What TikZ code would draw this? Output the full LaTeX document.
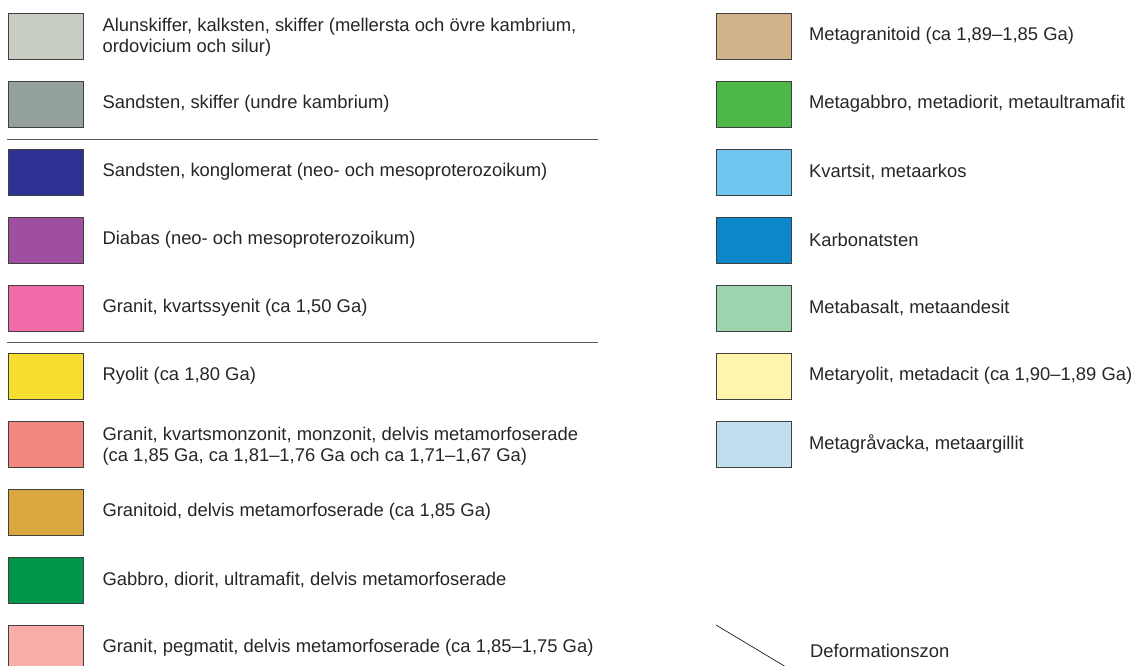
\documentclass[tikz,border=0pt]{standalone}
\usepackage{fontspec}
\setmainfont{Liberation Sans}
\usetikzlibrary{positioning}

\definecolor{alun}{HTML}{C8CEC3}
\definecolor{sandsk}{HTML}{94A09A}
\definecolor{konglo}{HTML}{2E3192}
\definecolor{diabas}{HTML}{9E4FA0}
\definecolor{kvsyen}{HTML}{F06AA7}
\definecolor{ryolit}{HTML}{F5DE2F}
\definecolor{kvmonz}{HTML}{F38880}
\definecolor{granitoid}{HTML}{D9A73E}
\definecolor{gabbro}{HTML}{00974B}
\definecolor{pegmat}{HTML}{F8ADA7}
\definecolor{mgranit}{HTML}{D3B38C}
\definecolor{mgabbro}{HTML}{4DB848}
\definecolor{kvartsit}{HTML}{6DC7EF}
\definecolor{karbonat}{HTML}{0B88CB}
\definecolor{mbasalt}{HTML}{9DD3AD}
\definecolor{mryolit}{HTML}{FFF5AD}
\definecolor{mgrav}{HTML}{C2DEEE}

\begin{document}
\begin{tikzpicture}[x=1pt, y=-1pt,
	every node/.style={font=\fontsize{18.4}{21}\selectfont, text=black!85},
	swatch/.style={draw=black!75, line width=0.7pt, minimum width=75pt, minimum height=46pt, inner sep=0pt},
	lbl/.style={right=19pt of #1, inner sep=0pt, align=left},
	rlbl/.style={right=17pt of #1, inner sep=0pt, align=left},
	rule/.style={draw=black!65, line width=0.8pt}]
	\useasboundingbox (0,0) rectangle (1140,666);
	\clip (0,0) rectangle (1140,666);

	% left column
	\node[swatch, fill=alun] (l1) at (45.5,36) {};
	\node[lbl=l1, yshift=-1pt] (t1) {Alunskiffer, kalksten, skiffer (mellersta och övre kambrium,\\ordovicium och silur)};
	\node[swatch, fill=sandsk] (l2) at (45.5,104) {};
	\node[lbl=l2] (t2) {Sandsten, skiffer (undre kambrium)};
	\node[swatch, fill=konglo] (l3) at (45.5,172) {};
	\node[lbl=l3] (t3) {Sandsten, konglomerat (neo- och mesoproterozoikum)};
	\node[swatch, fill=diabas] (l4) at (45.5,240) {};
	\node[lbl=l4] (t4) {Diabas (neo- och mesoproterozoikum)};
	\node[swatch, fill=kvsyen] (l5) at (45.5,308) {};
	\node[lbl=l5] (t5) {Granit, kvartssyenit (ca 1,50 Ga)};
	\node[swatch, fill=ryolit] (l6) at (45.5,376) {};
	\node[lbl=l6] (t6) {Ryolit (ca 1,80 Ga)};
	\node[swatch, fill=kvmonz] (l7) at (45.5,444) {};
	\node[lbl=l7, yshift=-2pt] (t7) {Granit, kvartsmonzonit, monzonit, delvis metamorfoserade\\(ca 1,85 Ga, ca 1,81--1,76 Ga och ca 1,71--1,67 Ga)};
	\node[swatch, fill=granitoid] (l8) at (45.5,512) {};
	\node[lbl=l8] (t8) {Granitoid, delvis metamorfoserade (ca 1,85 Ga)};
	\node[swatch, fill=gabbro] (l9) at (45.5,580) {};
	\node[lbl=l9] (t9) {Gabbro, diorit, ultramafit, delvis metamorfoserade};
	\node[swatch, fill=pegmat] (l10) at (45.5,648) {};
	\node[lbl=l10] (t10) {Granit, pegmatit, delvis metamorfoserade (ca 1,85--1,75 Ga)};

	% group separators
	\draw[rule] (7,139.5) -- (598,139.5);
	\draw[rule] (7,342) -- (598,342);

	% right column
	\node[swatch, fill=mgranit] (r1) at (754,36) {};
	\node[rlbl=r1] (s1) {Metagranitoid (ca 1,89--1,85 Ga)};
	\node[swatch, fill=mgabbro] (r2) at (754,104) {};
	\node[rlbl=r2] (s2) {Metagabbro, metadiorit, metaultramafit};
	\node[swatch, fill=kvartsit] (r3) at (754,172) {};
	\node[rlbl=r3] (s3) {Kvartsit, metaarkos};
	\node[swatch, fill=karbonat] (r4) at (754,240) {};
	\node[rlbl=r4] (s4) {Karbonatsten};
	\node[swatch, fill=mbasalt] (r5) at (754,308) {};
	\node[rlbl=r5] (s5) {Metabasalt, metaandesit};
	\node[swatch, fill=mryolit] (r6) at (754,376) {};
	\node[rlbl=r6] (s6) {Metaryolit, metadacit (ca 1,90--1,89 Ga)};
	\node[swatch, fill=mgrav] (r7) at (754,444) {};
	\node[rlbl=r7] (s7) {Metagråvacka, metaargillit};

	% deformation zone
	\coordinate (dz1) at (716,625);
	\coordinate (dz2) at (801,676);
	\draw[black!85, line width=0.7pt] (dz1) -- (dz2);
	\node[anchor=west, inner sep=0pt] (s8) at (810,651) {Deformationszon};
\end{tikzpicture}
\end{document}
